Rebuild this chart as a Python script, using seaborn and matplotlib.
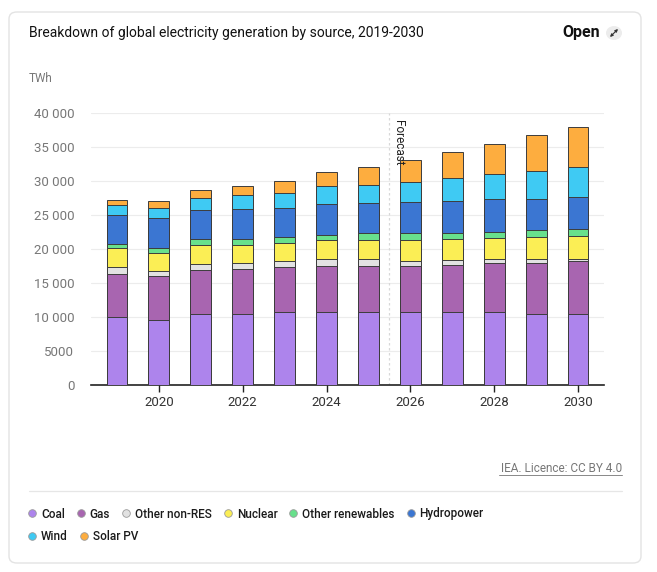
import numpy as np
import pandas as pd
import seaborn as sns
import matplotlib.pyplot as plt
from matplotlib.patches import FancyBboxPatch
from matplotlib.lines import Line2D

sns.set_style("white")
plt.rcParams['font.family'] = ['Roboto', 'DejaVu Sans']

years = [2019, 2020, 2021, 2022, 2023, 2024, 2025, 2026, 2027, 2028, 2029, 2030]

sources = ['Coal', 'Gas', 'Other non-RES', 'Nuclear', 'Other renewables',
           'Hydropower', 'Wind', 'Solar PV']

colors = ['#ad84ec', '#a865b0', '#e2e2e2', '#fbee55', '#68e08c',
          '#3b76d2', '#3fcaf3', '#fdad3f']

# TWh
coal = [9950, 9600, 10400, 10500, 10700, 10800, 10800, 10700, 10700, 10700, 10500, 10400]
gas = [6350, 6400, 6500, 6500, 6600, 6700, 6700, 6800, 7000, 7200, 7500, 7800]
other_non_res = [1000, 700, 900, 1000, 1000, 1100, 1100, 800, 700, 600, 500, 300]
nuclear = [2800, 2700, 2800, 2600, 2600, 2700, 2700, 3000, 3000, 3100, 3200, 3400]
other_renewables = [600, 700, 800, 800, 800, 800, 1000, 1000, 1000, 900, 1100, 1100]
hydropower = [4300, 4500, 4300, 4500, 4300, 4500, 4400, 4600, 4600, 4800, 4600, 4600]
wind = [1400, 1500, 1800, 2000, 2300, 2600, 2700, 2900, 3400, 3700, 4100, 4400]
solar_pv = [800, 900, 1200, 1300, 1700, 2100, 2600, 3300, 3900, 4500, 5300, 6000]

df = pd.DataFrame({
    'year': [str(y) for y in years],
    'Coal': coal, 'Gas': gas, 'Other non-RES': other_non_res, 'Nuclear': nuclear,
    'Other renewables': other_renewables, 'Hydropower': hydropower,
    'Wind': wind, 'Solar PV': solar_pv,
})
cum = df[sources].cumsum(axis=1)
cum['year'] = df['year']

W, H = 657, 572
fig = plt.figure(figsize=(W / 100, H / 100), dpi=100)

# card background
card = FancyBboxPatch((9 / W, 9 / H), 632 / W, 551 / H,
                      boxstyle="round,pad=0,rounding_size=0.012",
                      transform=fig.transFigure, facecolor='white',
                      edgecolor='#e3e3e3', linewidth=1.0, zorder=-5)
fig.patches.append(card)

ax = fig.add_axes([91 / W, (H - 385) / H, (604 - 91) / W, (385 - 113) / H])
ax.set_facecolor('none')

# draw cumulative bars from top layer down so they stack visually
for src, col in reversed(list(zip(sources, colors))):
    sns.barplot(data=cum, x='year', y=src, color=col, width=0.5,
                edgecolor='#3c3c3c', linewidth=0.7, saturation=1, ax=ax, zorder=3)

ax.set_ylim(0, 40000)
ax.set_xlim(-0.62, 11.62)
ax.set_yticks(range(0, 40001, 5000))
ax.set_yticklabels(['0' if v == 0 else ('5000' if v == 5000 else f"{v // 1000} 000")
                    for v in range(0, 40001, 5000)])
ax.yaxis.grid(True, color='#ececec', linewidth=0.8, zorder=0)
ax.set_axisbelow(True)

tick_pos = [years.index(y) for y in years if y % 2 == 0]
ax.set_xticks(tick_pos)
ax.set_xticklabels([str(years[i]) for i in tick_pos])

for s in ['top', 'right', 'left']:
    ax.spines[s].set_visible(False)
ax.spines['bottom'].set_color('#222222')
ax.spines['bottom'].set_linewidth(1.2)
ax.tick_params(axis='y', length=0, pad=12, labelsize=9.5, labelcolor='#777777')
ax.tick_params(axis='x', length=5, width=1, color='#222222', pad=3,
               labelsize=9.5, labelcolor='#333333', bottom=True)
ax.set_xlabel('')
ax.set_ylabel('')

# forecast marker
ax.axvline(6.5, color='#d8d8d8', linestyle=(0, (2, 2)), linewidth=0.9, zorder=1)
ax.text(6.56, 39000, 'Forecast', rotation=-90, ha='left', va='top',
        fontsize=8.5, color='#222222')

# texts
fig.text(29 / W, 1 - 33 / H, 'Breakdown of global electricity generation by source, 2019-2030',
         fontsize=10, color='#111111', va='center', ha='left')
fig.text(600 / W, 1 - 32 / H, 'Open', fontsize=11.5, fontweight='bold',
         color='#111111', va='center', ha='right')
fig.patches.append(plt.Circle((614 / W, 1 - 33 / H), 8 / W, transform=fig.transFigure,
                              facecolor='#ececec', edgecolor='none'))
fig.add_artist(plt.Annotation('', xy=(618 / W, 1 - 29 / H), xytext=(610 / W, 1 - 37 / H),
                              xycoords='figure fraction', textcoords='figure fraction',
                              arrowprops=dict(arrowstyle='<|-|>', color='#333333',
                                              lw=0.8, mutation_scale=4,
                                              shrinkA=0, shrinkB=0)))
fig.text(29 / W, 1 - 79 / H, 'TWh', fontsize=8.5, color='#777777', va='center')

fig.text(622 / W, 1 - 468 / H, 'IEA. Licence: CC BY 4.0', fontsize=8.5,
         color='#777777', ha='right', va='center')
fig.add_artist(Line2D([499 / W, 622 / W], [1 - 475 / H, 1 - 475 / H],
                      transform=fig.transFigure, color='#888888', linewidth=0.7))
fig.add_artist(Line2D([29 / W, 622 / W], [1 - 491 / H, 1 - 491 / H],
                      transform=fig.transFigure, color='#e6e6e6', linewidth=0.9))

# legend: two flowing rows
handles = [Line2D([], [], marker='o', linestyle='none', markersize=5.5,
                  markerfacecolor=c, markeredgecolor='#9a9a9a', markeredgewidth=0.6)
           for c in colors]
rows = [(0, 6, 514), (6, 8, 537)]
for a, b, ypx in rows:
    leg = fig.legend(handles[a:b], sources[a:b], loc='center left',
                     bbox_to_anchor=(17 / W, 1 - ypx / H),
                     ncol=b - a, frameon=False, handletextpad=0.35,
                     columnspacing=0.95, handlelength=0.8,
                     prop={'family': ['Roboto'], 'size': 8.5, 'weight': 'medium'})
    for t in leg.get_texts():
        t.set_color('#1a1a1a')

fig.savefig('out.png', dpi=100)
